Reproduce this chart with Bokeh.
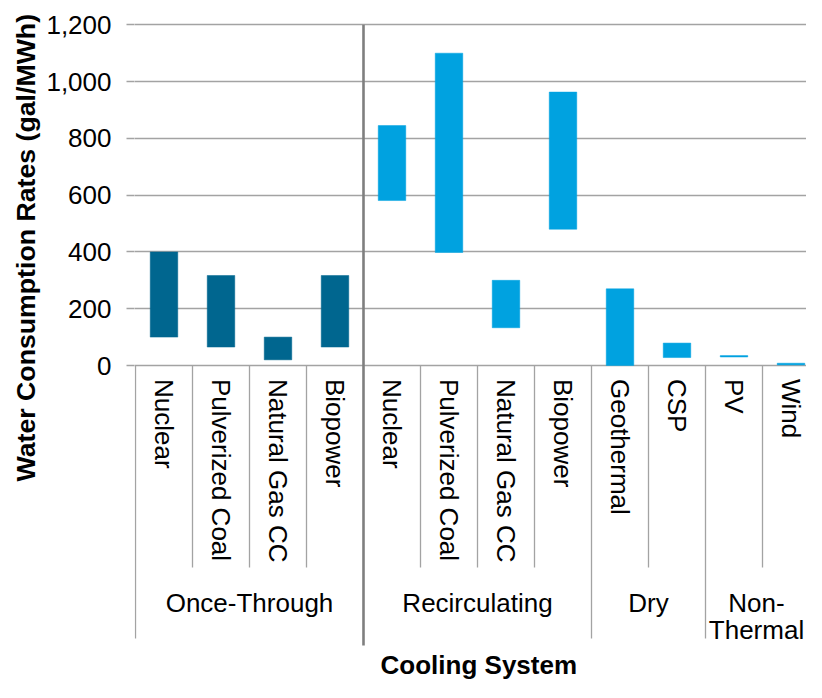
import math
from bokeh.plotting import figure
from bokeh.models import Range1d, FixedTicker, NumeralTickFormatter, Title
from bokeh.core.properties import value
from bokeh.embed import file_html
from bokeh.resources import INLINE

# ---------------- data ----------------
technologies = ["Nuclear", "Pulverized Coal", "Natural Gas CC", "Biopower",
                "Nuclear", "Pulverized Coal", "Natural Gas CC", "Biopower",
                "Geothermal", "CSP", "PV", "Wind"]
cooling_systems = ["Once-Through"] * 4 + ["Recirculating"] * 4 + ["Dry"] * 2 + ["Non-Thermal"] * 2
low_values = [100, 65, 20, 65, 581, 398, 133, 480, 0, 28, 30, 2]
high_values = [400, 317, 100, 317, 845, 1100, 300, 963, 270, 79, 35, 8]
group_names = ["Once-Through", "Recirculating", "Dry", "Non-Thermal"]
group_label_lines = [["Once-Through"], ["Recirculating"], ["Dry"], ["Non-", "Thermal"]]
y_ticks = [0, 200, 400, 600, 800, 1000, 1200]
y_title = "Water Consumption Rates (gal/MWh)"
x_title = "Cooling System"

# ---------------- styles / layout ----------------
DARK = "#00668F"
LIGHT = "#00A2E0"
GRID = "#A3A3A3"
DIVIDER = "#7F7F7F"
FONT = "Liberation Sans"
bar_colors = [DARK if g == "Once-Through" else LIGHT for g in cooling_systems]

W, H = 806, 682
PX_PER_CAT = 57.0
PX_PER_UNIT = 340.7 / 1200.0
CAT0_X = 135.0      # x of category boundary 0
ZERO_Y = 365.0      # y of value 0
FRAME_L, FRAME_R, FRAME_T, FRAME_B = 134, W, 22, H


def xd(px):
    return (px - CAT0_X) / PX_PER_CAT


def yd(py):
    return (ZERO_Y - py) / PX_PER_UNIT


p = figure(width=W, height=H,
           x_range=Range1d(xd(FRAME_L), xd(FRAME_R)),
           y_range=Range1d(yd(FRAME_B), yd(FRAME_T)),
           x_axis_type=None, output_backend="svg", toolbar_location=None,
           min_border_left=FRAME_L, min_border_right=0,
           min_border_top=FRAME_T, min_border_bottom=0)
p.outline_line_color = None
p.background_fill_color = "white"
p.border_fill_color = "white"

# y axis and grid
p.ygrid.ticker = FixedTicker(ticks=y_ticks)
p.ygrid.grid_line_color = GRID
p.ygrid.grid_line_width = 1.6
yax = p.yaxis[0]
yax.ticker = FixedTicker(ticks=y_ticks)
yax.formatter = NumeralTickFormatter(format="0,0")
yax.axis_line_color = None
yax.major_tick_in = 0
yax.major_tick_out = 8
yax.major_tick_line_color = GRID
yax.major_tick_line_width = 1.6
yax.minor_tick_line_color = None
yax.major_label_standoff = 15
yax.major_label_text_font = FONT
yax.major_label_text_font_size = "26px"
yax.major_label_text_color = "#000000"

# y title (placed along the left side, bottom-anchored)
p.add_layout(Title(text=y_title, align="left", offset=H - 481, vertical_align="middle",
                   text_font=FONT, text_font_size="26.7px", text_font_style="bold",
                   text_color="#000000", standoff=4), "left")

n = len(technologies)
centers = [i + 0.5 for i in range(n)]

# bars
p.vbar(x=centers, bottom=low_values, top=high_values, width=0.483,
       fill_color=bar_colors, line_color=bar_colors, line_width=0.5)

# separators in the category area
inner_x, group_x = [], [0]
for i in range(1, n):
    if cooling_systems[i] != cooling_systems[i - 1]:
        group_x.append(i)
    else:
        inner_x.append(i)
group_x.append(n)

p.segment(x0=inner_x, y0=[0] * len(inner_x), x1=inner_x, y1=[yd(567)] * len(inner_x),
          line_color=GRID, line_width=1.3)
outer = [g for g in group_x if g != 4]
p.segment(x0=outer, y0=[0] * len(outer), x1=outer, y1=[yd(638)] * len(outer),
          line_color=GRID, line_width=1.3)
# dark divider between once-through and the rest
p.segment(x0=[4], y0=[1200], x1=[4], y1=[yd(645)], line_color=DIVIDER, line_width=2.6)

# category labels (rotated)
p.text(x=centers, y=[yd(378.5)] * n, text=technologies, angle=-math.pi / 2,
       text_align="left", text_baseline="middle", text_font=value(FONT),
       text_font_size=value("26px"), text_color="#000000")

# group labels
gx, gy, gt = [], [], []
for k, name in enumerate(group_names):
    idx = [i for i, g in enumerate(cooling_systems) if g == name]
    cx = (idx[0] + idx[-1] + 1) / 2.0
    if idx[-1] + 1 > xd(FRAME_R):
        cx -= 6.0 / PX_PER_CAT
    for j, line in enumerate(group_label_lines[k]):
        gx.append(cx)
        gy.append(yd(602 + 27 * j))
        gt.append(line)
p.text(x=gx, y=gy, text=gt, text_align="center", text_baseline="alphabetic",
       text_font=value(FONT), text_font_size=value("26px"), text_color="#000000")

# x title
p.text(x=[xd(478.3)], y=[yd(664)], text=[x_title], text_align="center",
       text_baseline="alphabetic", text_font=value(FONT), text_font_style="bold",
       text_font_size=value("26px"), text_color="#000000")

open("out.html", "w").write(file_html(p, INLINE))
